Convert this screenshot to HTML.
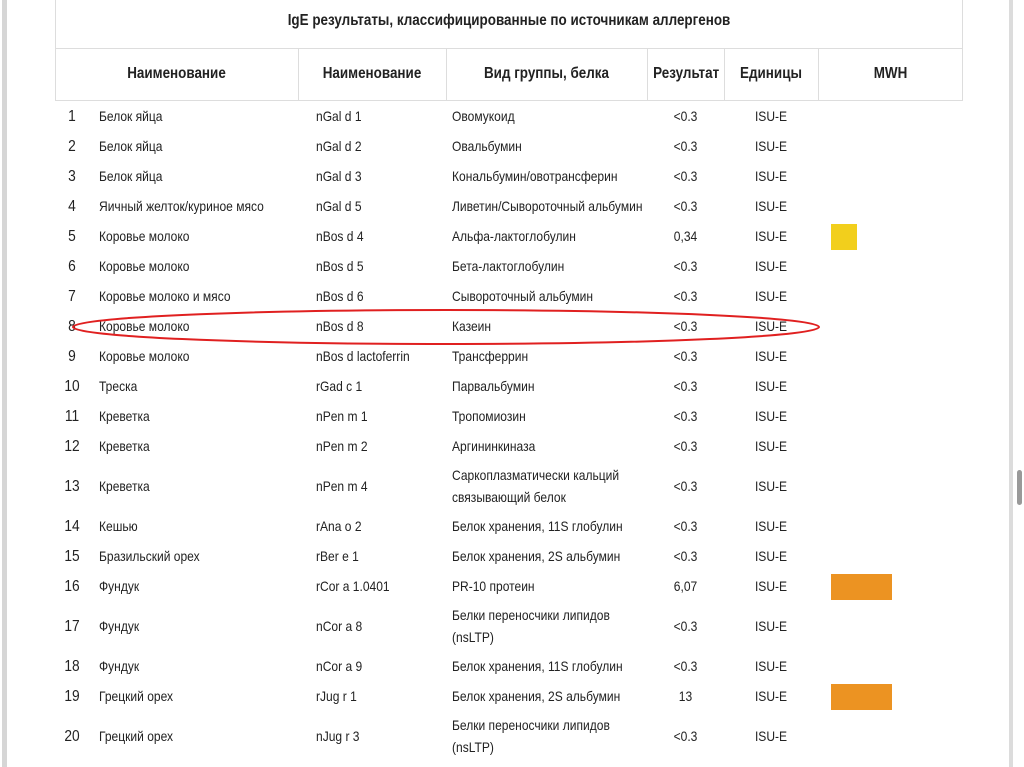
<!DOCTYPE html>
<html><head><meta charset="utf-8">
<style>
body{margin:0;width:1024px;height:767px;overflow:hidden;background:#fff;position:relative;font-family:"Liberation Sans Narrow","Liberation Sans","Noto Sans CJK SC",sans-serif;color:#222}
.a{position:absolute;white-space:nowrap}
.t{font-size:14px;transform:scaleX(.86);transform-origin:0 50%}
.h{font-size:16px;font-weight:bold;transform:scaleX(.84);transform-origin:50% 50%}
.ln{position:absolute;background:#ddd}
</style></head>
<body>
<div class="a" style="left:2px;top:0;width:5px;height:767px;background:#d6d6d6"></div>
<div class="a" style="left:1009px;top:0;width:4px;height:767px;background:#dcdcdc"></div>
<div class="a" style="left:1017px;top:470px;width:5px;height:35px;background:#999;border-radius:3px"></div>
<div class="ln" style="left:55px;top:0;width:1px;height:101px"></div>
<div class="ln" style="left:962px;top:0;width:1px;height:101px"></div>
<div class="ln" style="left:55px;top:48px;width:908px;height:1px"></div>
<div class="ln" style="left:55px;top:100px;width:908px;height:1px"></div>
<div class="ln" style="left:298px;top:48px;width:1px;height:53px"></div>
<div class="ln" style="left:446px;top:48px;width:1px;height:53px"></div>
<div class="ln" style="left:647px;top:48px;width:1px;height:53px"></div>
<div class="ln" style="left:724px;top:48px;width:1px;height:53px"></div>
<div class="ln" style="left:818px;top:48px;width:1px;height:53px"></div>
<div class="a h" style="left:55px;width:908px;top:12px;text-align:center">IgE результаты, классифицированные по источникам аллергенов</div>
<div class="a h" style="left:55px;width:243px;top:65px;text-align:center">Наименование</div>
<div class="a h" style="left:298px;width:148px;top:65px;text-align:center">Наименование</div>
<div class="a h" style="left:446px;width:201px;top:65px;text-align:center">Вид группы, белка</div>
<div class="a h" style="left:647px;width:77px;top:65px;text-align:center">Результат</div>
<div class="a h" style="left:724px;width:94px;top:65px;text-align:center">Единицы</div>
<div class="a h" style="left:818px;width:145px;top:65px;text-align:center">MWH</div>
<div id="rows"></div>
<svg class="a" style="left:0;top:0" width="1024" height="767"><ellipse cx="446" cy="327" rx="373" ry="17" fill="none" stroke="#e02020" stroke-width="2"/></svg>
<script>
const names=["Белок яйца","Белок яйца","Белок яйца","Яичный желток/куриное мясо","Коровье молоко","Коровье молоко","Коровье молоко и мясо","Коровье молоко","Коровье молоко","Треска","Креветка","Креветка","Креветка","Кешью","Бразильский орех","Фундук","Фундук","Фундук","Грецкий орех","Грецкий орех"];
const codes=["nGal d 1","nGal d 2","nGal d 3","nGal d 5","nBos d 4","nBos d 5","nBos d 6","nBos d 8","nBos d lactoferrin","rGad c 1","nPen m 1","nPen m 2","nPen m 4","rAna o 2","rBer e 1","rCor a 1.0401","nCor a 8","nCor a 9","rJug r 1","nJug r 3"];
const groups=["Овомукоид","Овальбумин","Кональбумин/овотрансферин","Ливетин/Сывороточный альбумин","Альфа-лактоглобулин","Бета-лактоглобулин","Сывороточный альбумин","Казеин","Трансферрин","Парвальбумин","Тропомиозин","Аргининкиназа","Саркоплазматически кальций|связывающий белок","Белок хранения, 11S глобулин","Белок хранения, 2S альбумин","PR-10 протеин","Белки переносчики липидов|(nsLTP)","Белок хранения, 11S глобулин","Белок хранения, 2S альбумин","Белки переносчики липидов|(nsLTP)"];
const results=["<0.3","<0.3","<0.3","<0.3","0,34","<0.3","<0.3","<0.3","<0.3","<0.3","<0.3","<0.3","<0.3","<0.3","<0.3","6,07","<0.3","<0.3","13","<0.3"];
const mwhClass=[0,0,0,0,1,0,0,0,0,0,0,0,0,0,0,2,0,0,2,0];
const root=document.getElementById('rows');
let y=102;
function add(txt,x,cy,w,center){
  const d=document.createElement('div');
  d.className='a t';
  d.style.left=x+'px';d.style.top=(cy-9)+'px';
  if(center){d.style.width=w+'px';d.style.textAlign='center';d.style.transformOrigin='50% 50%';}
  d.textContent=txt;root.appendChild(d);return d;
}
for(let i=0;i<names.length;i++){
  const two=groups[i].includes('|');
  const h=two?50:30;
  const cy=y+h/2;
  const r=document.createElement('div');
  
  
  root.appendChild(r);
  let e=add(String(i+1),60,cy,24,true);e.style.fontSize='16px';
  
  e=add(names[i],99,cy);
  e=add(codes[i],316,cy);
  if(two){const p=groups[i].split('|');
    e=add(p[0],452,cy-11);
    e=add(p[1],452,cy+11);
  } else {e=add(groups[i],452,cy);}
  e=add(results[i],647,cy,77,true);
  e=add('ISU-E',724,cy,94,true);
  if(mwhClass[i]){
    const s=document.createElement('div');
    s.className='a';
    
    
    const w=mwhClass[i]===1?26:61;
    s.style.cssText+='left:831px;top:'+(cy-13)+'px;width:'+w+'px;height:26px;background:'+(mwhClass[i]===1?'#f2cf1c':'#ec9322');
    root.appendChild(s);
  }
  y+=h;
}
</script>
</body></html>
